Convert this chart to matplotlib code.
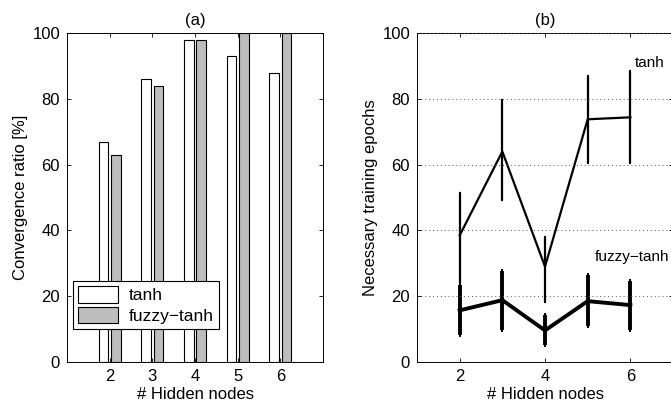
import matplotlib
matplotlib.use('Agg')
import matplotlib.pyplot as plt
import numpy as np

plt.rcParams['font.family'] = ['Liberation Sans', 'DejaVu Sans']
plt.rcParams['font.size'] = 12

# panel (a): convergence ratio
nodes = [2, 3, 4, 5, 6]
conv_tanh = [67, 86, 98, 93, 88]
conv_fuzzy = [63, 84, 98, 100, 100]

# panel (b): training epochs, mean with lower/upper bar ends
ep_tanh = [38.5, 64, 29, 73.8, 74.4]
ep_tanh_lo = [24.4, 49.2, 18.3, 60.4, 60.4]
ep_tanh_hi = [51.3, 79.7, 38, 87, 88.5]
ep_fuzzy = [15.7, 18.8, 9.6, 18.5, 17.3]
ep_fuzzy_lo = [8.1, 9.8, 5.1, 10.9, 9.8]
ep_fuzzy_hi = [23.4, 27.7, 14.2, 26.3, 24.6]

fig = plt.figure(figsize=(6.71, 4.07), dpi=100)
ax1 = fig.add_axes([0.0999, 0.1106, 0.3815, 0.808])
ax2 = fig.add_axes([0.6215, 0.1106, 0.3815, 0.808])

x = np.array(nodes, dtype=float)
w = 0.23
ax1.bar(x - 0.145, conv_tanh, w, color='white', edgecolor='black', linewidth=0.8, label='tanh')
ax1.bar(x + 0.145, conv_fuzzy, w, color='#bdbdbd', edgecolor='black', linewidth=0.8, label='fuzzy\u2212tanh')
ax1.set_xlim(1, 7)
ax1.set_ylim(0, 100)
ax1.set_xticks(nodes)
ax1.set_yticks([0, 20, 40, 60, 80, 100])
ax1.set_title('(a)', fontsize=12, pad=6)
ax1.set_xlabel('# Hidden nodes', labelpad=2)
ax1.set_ylabel('Convergence ratio [%]', labelpad=3)
leg = ax1.legend(loc='lower left', bbox_to_anchor=(0.023, 0.1), fancybox=False,
                 edgecolor='black', framealpha=1, borderaxespad=0, fontsize=12.5,
                 handlelength=2.3, handleheight=1.1, handletextpad=0.6,
                 borderpad=0.3, labelspacing=0.2)
leg.get_frame().set_linewidth(0.8)

t_err = [np.array(ep_tanh) - np.array(ep_tanh_lo), np.array(ep_tanh_hi) - np.array(ep_tanh)]
f_err = [np.array(ep_fuzzy) - np.array(ep_fuzzy_lo), np.array(ep_fuzzy_hi) - np.array(ep_fuzzy)]
ax2.errorbar(nodes, ep_tanh, yerr=t_err, color='black', linewidth=1.6, elinewidth=1.6,
             capsize=1, capthick=1.6)
ax2.errorbar(nodes, ep_fuzzy, yerr=f_err, color='black', linewidth=2.8, elinewidth=2.8,
             capsize=1, capthick=2.8)
ax2.text(6.46, 91, 'tanh', fontsize=11, ha='center', va='center')
ax2.text(6.05, 32, 'fuzzy\u2212tanh', fontsize=11, ha='center', va='center')
ax2.set_xlim(1, 7)
ax2.set_ylim(0, 100)
ax2.set_xticks([2, 4, 6])
ax2.set_yticks([0, 20, 40, 60, 80, 100])
ax2.yaxis.grid(True, linestyle=(0, (1, 3)), color='#555555', linewidth=0.7)
ax2.set_title('(b)', fontsize=12, pad=6)
ax2.set_xlabel('# Hidden nodes', labelpad=2)
ax2.set_ylabel('Necessary training epochs', labelpad=3)

for ax in (ax1, ax2):
    ax.tick_params(direction='in', top=True, right=True, length=3, width=0.6, pad=5)
    for s in ax.spines.values():
        s.set_linewidth(0.7)
    ax.set_axisbelow(False)

fig.savefig('out.png', dpi=100)
